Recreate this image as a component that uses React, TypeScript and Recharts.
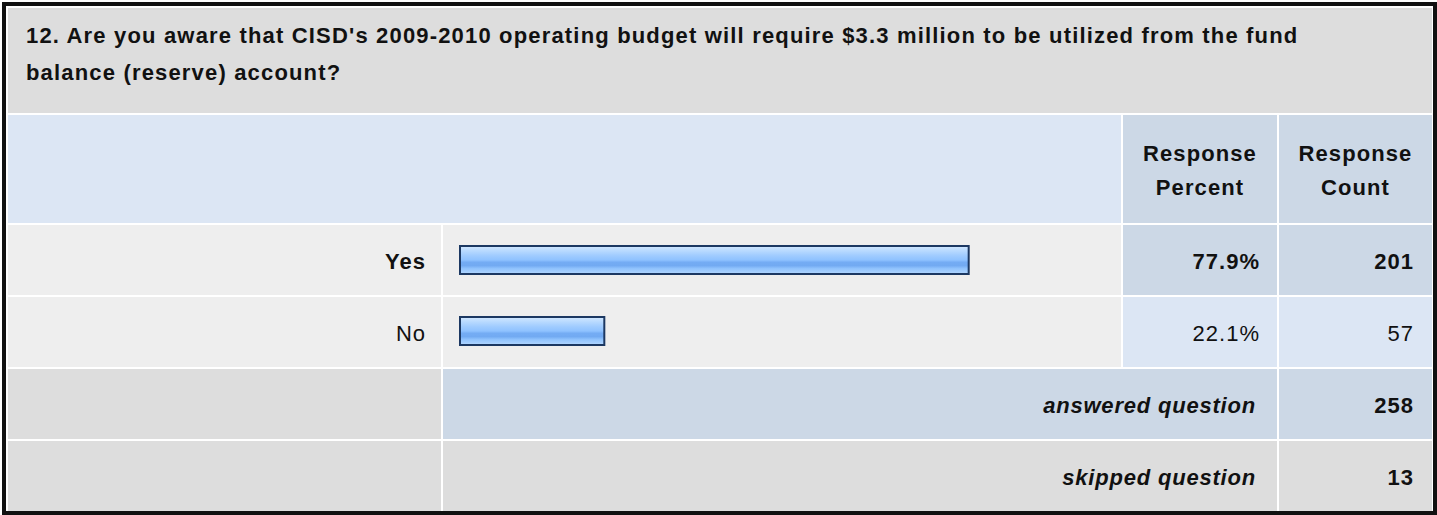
import { BarChart, Bar, XAxis, YAxis } from "recharts";

const answerLabels = ["Yes", "No"];
const responsePercents = [77.9, 22.1];
const responseCounts = [201, 57];
const boldRows = [true, false];
const answeredCount = 258;
const skippedCount = 13;
const questionLine1 =
  "12. Are you aware that CISD's 2009-2010 operating budget will require $3.3 million to be utilized from the fund";
const questionLine2 = "balance (reserve) account?";

const chartData = answerLabels.map((label, i) => ({
  label,
  percent: responsePercents[i],
}));

const FONT = '"Liberation Sans", Arial, Helvetica, sans-serif';

// column edges
const colLabel = [8, 441];
const colBar = [443, 1121];
const colPct = [1123, 1277];
const colCnt = [1279, 1432];
// row edges
const rowTitle = [8, 113];
const rowHead = [115, 223];
const rowsAnswer = [
  [225, 295],
  [297, 367],
];
const rowAnswered = [369, 439];
const rowSkipped = [441, 511];

type CellProps = {
  cols: number[];
  rows: number[];
  bg: string;
  align?: "left" | "right" | "center";
  pad?: number;
  style?: React.CSSProperties;
  children?: React.ReactNode;
};

const Cell = ({ cols, rows, bg, align = "right", pad = 17, style, children }: CellProps) => (
  <div
    style={{
      position: "absolute",
      left: cols[0],
      top: rows[0],
      width: cols[1] - cols[0],
      height: rows[1] - rows[0],
      background: bg,
      display: "flex",
      alignItems: "center",
      justifyContent:
        align === "right" ? "flex-end" : align === "center" ? "center" : "flex-start",
      boxSizing: "border-box",
      paddingRight: align === "right" ? pad : 0,
      paddingTop: 3,
      fontSize: 22,
      letterSpacing: 1,
      color: "#111",
      ...style,
    }}
  >
    {children}
  </div>
);

const App = () => {
  return (
    <div
      style={{
        position: "absolute",
        left: 0,
        top: 0,
        width: 1437,
        height: 515,
        background: "#fff",
        fontFamily: FONT,
      }}
    >
      <div
        style={{
          position: "absolute",
          left: 2,
          top: 2,
          width: 1435,
          height: 513,
          border: "4px solid #111",
          boxSizing: "border-box",
        }}
      />

      {/* question */}
      <div
        style={{
          position: "absolute",
          left: 8,
          top: rowTitle[0],
          width: 1424,
          height: rowTitle[1] - rowTitle[0],
          background: "#dddddd",
        }}
      >
        <div
          style={{
            position: "absolute",
            left: 18,
            top: 9,
            fontSize: 22,
            fontWeight: "bold",
            lineHeight: "37px",
            letterSpacing: 1.17,
            color: "#111",
            whiteSpace: "nowrap",
          }}
        >
          {questionLine1}
          <br />
          {questionLine2}
        </div>
      </div>

      {/* header */}
      <Cell cols={[colLabel[0], colBar[1]]} rows={rowHead} bg="#dce6f4" />
      <Cell
        cols={colPct}
        rows={rowHead}
        bg="#ccd8e6"
        align="center"
        style={{ fontWeight: "bold", lineHeight: "34px", textAlign: "center", letterSpacing: 1.1 }}
      >
        <div>
          Response
          <br />
          Percent
        </div>
      </Cell>
      <Cell
        cols={colCnt}
        rows={rowHead}
        bg="#ccd8e6"
        align="center"
        style={{ fontWeight: "bold", lineHeight: "34px", textAlign: "center", letterSpacing: 1.1 }}
      >
        <div>
          Response
          <br />
          Count
        </div>
      </Cell>

      {/* answer rows */}
      {answerLabels.map((label, i) => {
        const weight = boldRows[i] ? "bold" : "normal";
        const valueBg = boldRows[i] ? "#ccd8e6" : "#dce6f4";
        return (
          <div key={label}>
            <Cell cols={colLabel} rows={rowsAnswer[i]} bg="#eeeeee" pad={15} style={{ fontWeight: weight }}>
              {label}
            </Cell>
            <Cell cols={colBar} rows={rowsAnswer[i]} bg="#eeeeee" />
            <Cell cols={colPct} rows={rowsAnswer[i]} bg={valueBg} style={{ fontWeight: weight }}>
              {responsePercents[i].toFixed(1)}%
            </Cell>
            <Cell cols={colCnt} rows={rowsAnswer[i]} bg={valueBg} pad={18} style={{ fontWeight: weight }}>
              {responseCounts[i]}
            </Cell>
          </div>
        );
      })}

      {/* totals */}
      <Cell cols={colLabel} rows={rowAnswered} bg="#dddddd" />
      <Cell
        cols={[colBar[0], colPct[1]]}
        rows={rowAnswered}
        bg="#ccd8e6"
        pad={21}
        style={{ fontWeight: "bold", fontStyle: "italic", letterSpacing: 0.8 }}
      >
        answered question
      </Cell>
      <Cell cols={colCnt} rows={rowAnswered} bg="#ccd8e6" pad={18} style={{ fontWeight: "bold" }}>
        {answeredCount}
      </Cell>
      <Cell cols={colLabel} rows={rowSkipped} bg="#dddddd" />
      <Cell
        cols={[colBar[0], colPct[1]]}
        rows={rowSkipped}
        bg="#dddddd"
        pad={21}
        style={{ fontWeight: "bold", fontStyle: "italic", letterSpacing: 0.8 }}
      >
        skipped question
      </Cell>
      <Cell cols={colCnt} rows={rowSkipped} bg="#dddddd" pad={18} style={{ fontWeight: "bold" }}>
        {skippedCount}
      </Cell>

      {/* bars */}
      <div style={{ position: "absolute", left: colBar[0], top: 224 }}>
        <BarChart
          width={678}
          height={142}
          data={chartData}
          layout="vertical"
          margin={{ top: 0, right: 8, bottom: 0, left: 17 }}
          barCategoryGap={0}
        >
          <defs>
            <linearGradient id="barGrad" x1="0" y1="0" x2="0" y2="1">
              <stop offset="0%" stopColor="#d2e8ff" />
              <stop offset="18%" stopColor="#b7d9ff" />
              <stop offset="35%" stopColor="#9fcbff" />
              <stop offset="50%" stopColor="#8fc2ff" />
              <stop offset="58%" stopColor="#74acf4" />
              <stop offset="70%" stopColor="#72aaf2" />
              <stop offset="80%" stopColor="#8fc2fd" />
              <stop offset="100%" stopColor="#b3d7ff" />
            </linearGradient>
          </defs>
          <XAxis type="number" domain={[0, 100]} hide />
          <YAxis type="category" dataKey="label" hide />
          <Bar
            dataKey="percent"
            barSize={28}
            fill="url(#barGrad)"
            stroke="#1c3862"
            strokeWidth={2}
            isAnimationActive={false}
          />
        </BarChart>
      </div>
    </div>
  );
};

export default App;
